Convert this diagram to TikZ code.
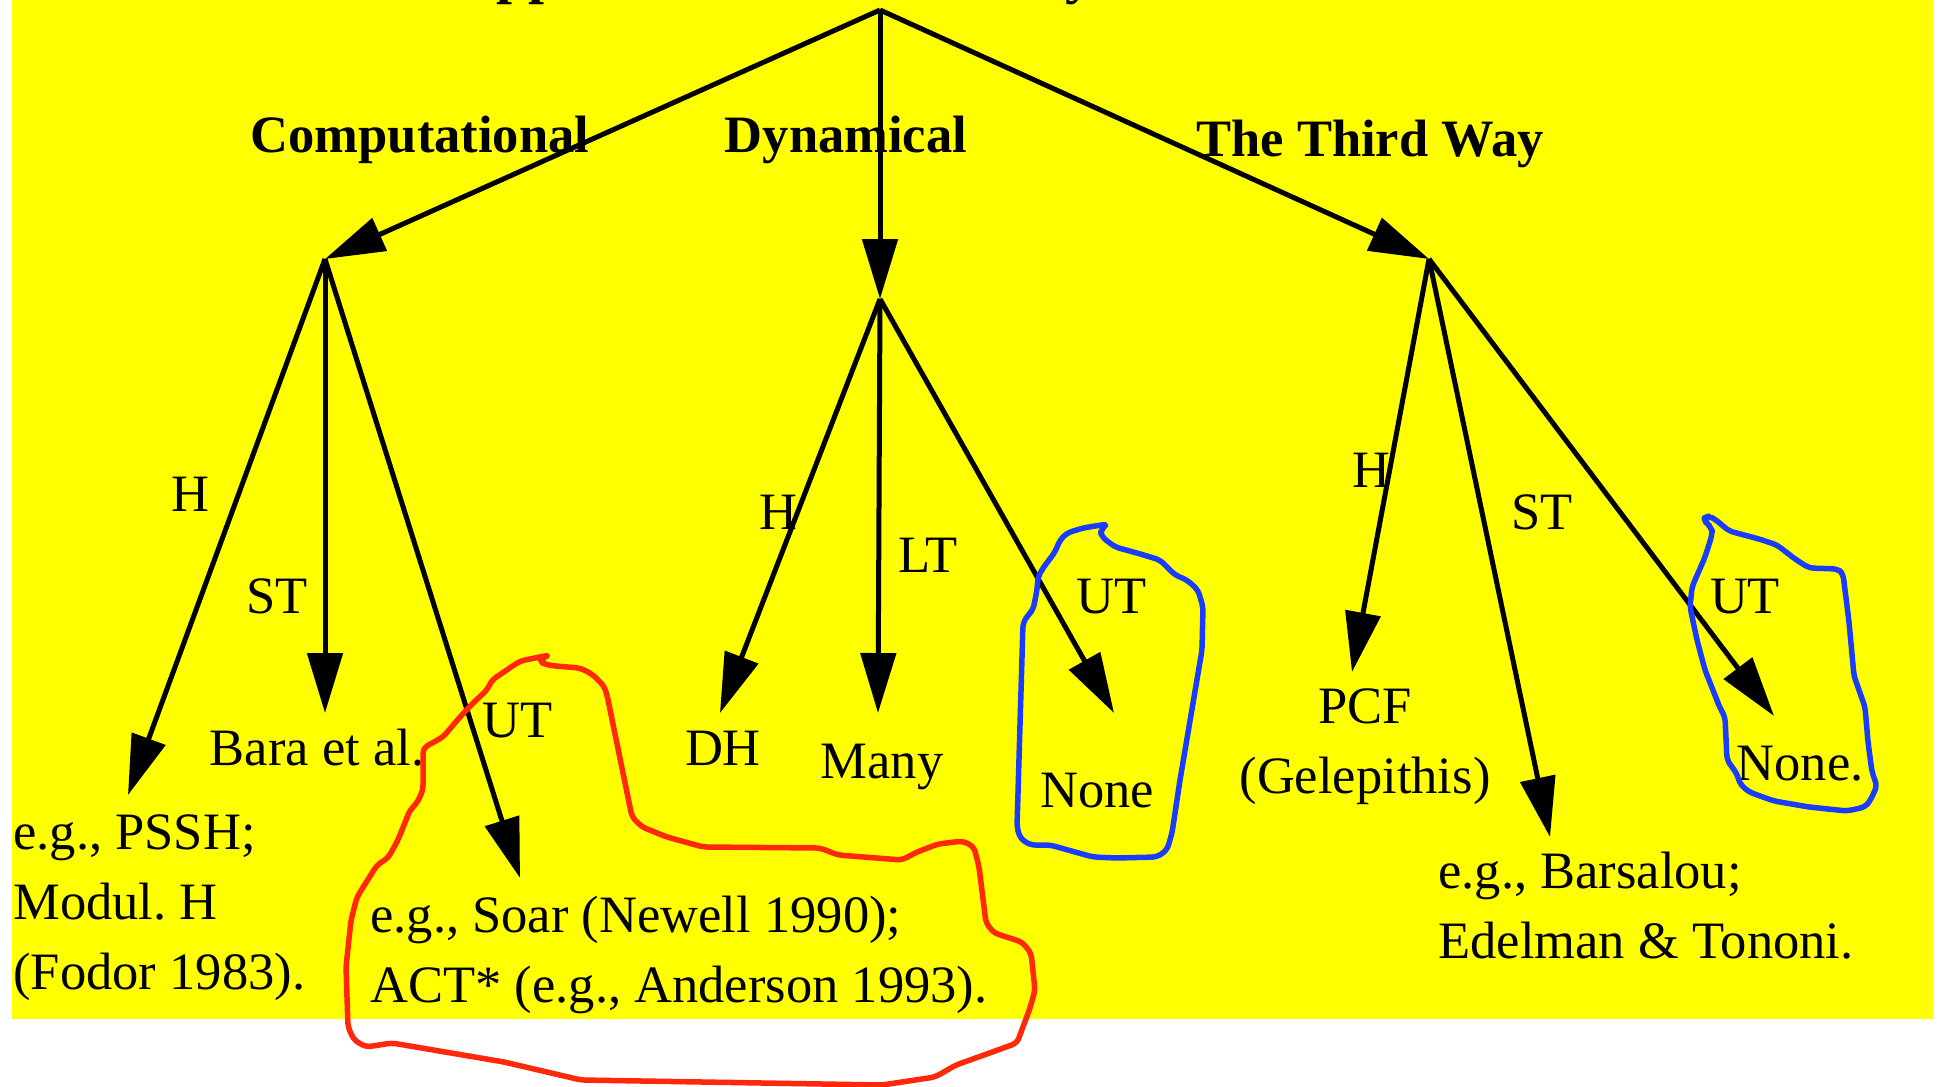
\documentclass[tikz,border=0pt]{standalone}
\usepackage{fontspec}
\setmainfont{Liberation Serif}
\usetikzlibrary{arrows.meta,calc}
\frenchspacing
\definecolor{paper}{RGB}{255,255,0}
\definecolor{penred}{RGB}{255,40,10}
\definecolor{penblue}{RGB}{25,60,255}
\newcommand{\labelsize}{\fontsize{29.9pt}{39.8pt}\selectfont}
\tikzset{
  arr/.style={-{Triangle[length=1.2cm,width=0.7cm]},line width=0.1cm},
  branch/.style={font=\labelsize\bfseries,inner sep=0pt,anchor=base},
  tag/.style={font=\labelsize,inner sep=0pt,anchor=base},
  leaf/.style={font=\labelsize,inner sep=0pt,anchor=base},
  leafl/.style={leaf,anchor=base west,align=left},
  ring/.style={line width=0.11cm,rounded corners=0.1cm,line join=round}
}
\begin{document}
\begin{tikzpicture}[x=0.02cm,y=-0.02cm] %[scale=0.8]
  \useasboundingbox (0,0) rectangle (1937,1087);
  \fill[paper] (12,0) rectangle (1933,1019);
  \node[branch,font=\fontsize{32.7pt}{39pt}\selectfont\bfseries] (title) at (880,-7) {Approaches to the Theory of Mind};
  \coordinate (root) at (880,10);
  \coordinate (comp) at (325,259);
  \coordinate (dyn) at (880,299);
  \coordinate (third) at (1429,259);
  \node[branch] (lcomp) at (420,153) {Computational};
  \node[branch] (ldyn) at (846,153) {Dynamical};
  \node[branch] (lthird) at (1370,157) {The Third Way};
  \node[leafl] (pssh) at (13,989) {e.g., PSSH;\\Modul. H\\(Fodor 1983).};
  \node[leaf] (bara) at (317,765) {Bara et al.};
  \node[leafl] (soar) at (370,1002) {e.g., Soar (Newell 1990);\\ACT* (e.g., Anderson 1993).};
  \node[leaf] (dh) at (723,765) {DH};
  \node[leaf] (many) at (882,778) {Many};
  \node[leaf] (none1) at (1097,807) {None};
  \node[leaf,align=center] (pcf) at (1365,793) {PCF\\(Gelepithis)};
  \node[leafl] (barsalou) at (1438,958) {e.g., Barsalou;\\Edelman \& Tononi.};
  \node[leaf] (none2) at (1800,780) {None.};
  \node[tag] (h1) at (190,512) {H};
  \node[tag] (st1) at (277,613) {ST};
  \node[tag] (ut1) at (518,737) {UT};
  \node[tag] (h2) at (778,530) {H};
  \node[tag] (lt2) at (928,572) {LT};
  \node[tag] (ut2) at (1112,613) {UT};
  \node[tag] (h3) at (1371,488) {H};
  \node[tag] (st3) at (1542,530) {ST};
  \node[tag] (ut3) at (1745,613) {UT};
  \draw[arr] (root) -- (comp);
  \draw[arr] (root) -- (dyn);
  \draw[arr] (root) -- (third);
  \draw[arr] (comp) -- ($(pssh.base west)+(115,-194)$);
  \draw[arr] (comp) -- ($(bara.base)+(8,-52)$);
  \draw[arr] (comp) -- ($(soar.base west)+(150,-124)$);
  \draw[arr] (dyn) -- ($(dh.base)+(-3,-52)$);
  \draw[arr] (dyn) -- ($(many.base)+(-4,-65)$);
  \draw[arr] (dyn) -- ($(none1.base)+(17,-94)$);
  \draw[arr] (third) -- ($(pcf.base)+(-13,-121)$);
  \draw[arr] (third) -- ($(barsalou.base west)+(112,-121)$);
  \draw[arr] (third) -- ($(none2.base)+(-26,-64)$);
  \draw[ring,penred] (550,655) -- (540,659) -- (543,664) -- (555,666) -- (580,668) -- (592,674) -- (604,686) -- (607,695) -- (632,817) -- (642,827) -- (667,837) -- (703,847) -- (820,848) -- (838,855) -- (902,860) -- (917,852) -- (938,844) -- (963,841) -- (974,847) -- (979,867) -- (986,923) -- (994,933) -- (1022,942) -- (1031,953) -- (1035,990) -- (1030,1008) -- (1017,1043) -- (984,1055) -- (956,1065) -- (935,1077) -- (882,1085) -- (581,1080) -- (504,1062) -- (392,1043) -- (366,1047) -- (354,1040) -- (348,1027) -- (346,967) -- (351,920) -- (357,897) -- (377,865) -- (388,858) -- (398,840) -- (410,810) -- (417,803) -- (423,790) -- (423,748) -- (443,737) -- (460,717) -- (473,703) -- (487,690) -- (492,680) -- (520,661) -- cycle;
  \draw[ring,penblue] (1108,524) -- (1100,530) -- (1102,537) -- (1115,547) -- (1137,553) -- (1160,560) -- (1175,575) -- (1187,580) -- (1198,590) -- (1203,607) -- (1202,650) -- (1180,780) -- (1172,833) -- (1167,850) -- (1157,857) -- (1117,858) -- (1093,857) -- (1050,845) -- (1030,845) -- (1020,838) -- (1017,827) -- (1023,623) -- (1028,615) -- (1033,610) -- (1037,590) -- (1038,577) -- (1043,568) -- (1055,552) -- (1060,540) -- (1067,533) -- (1083,528) -- cycle;
  \draw[ring,penblue] (1704,518) -- (1709,516) -- (1716,520) -- (1729,531) -- (1759,539) -- (1777,545) -- (1795,559) -- (1809,568) -- (1838,569) -- (1843,574) -- (1849,622) -- (1854,676) -- (1865,707) -- (1868,742) -- (1872,772) -- (1877,786) -- (1870,801) -- (1865,807) -- (1847,811) -- (1809,807) -- (1774,801) -- (1749,792) -- (1740,784) -- (1737,774) -- (1732,767) -- (1727,760) -- (1725,717) -- (1720,708) -- (1705,670) -- (1697,640) -- (1690,607) -- (1692,587) -- (1705,557) -- (1712,535) -- (1712,528) -- (1706,523) -- cycle;
\end{tikzpicture}
\end{document}
